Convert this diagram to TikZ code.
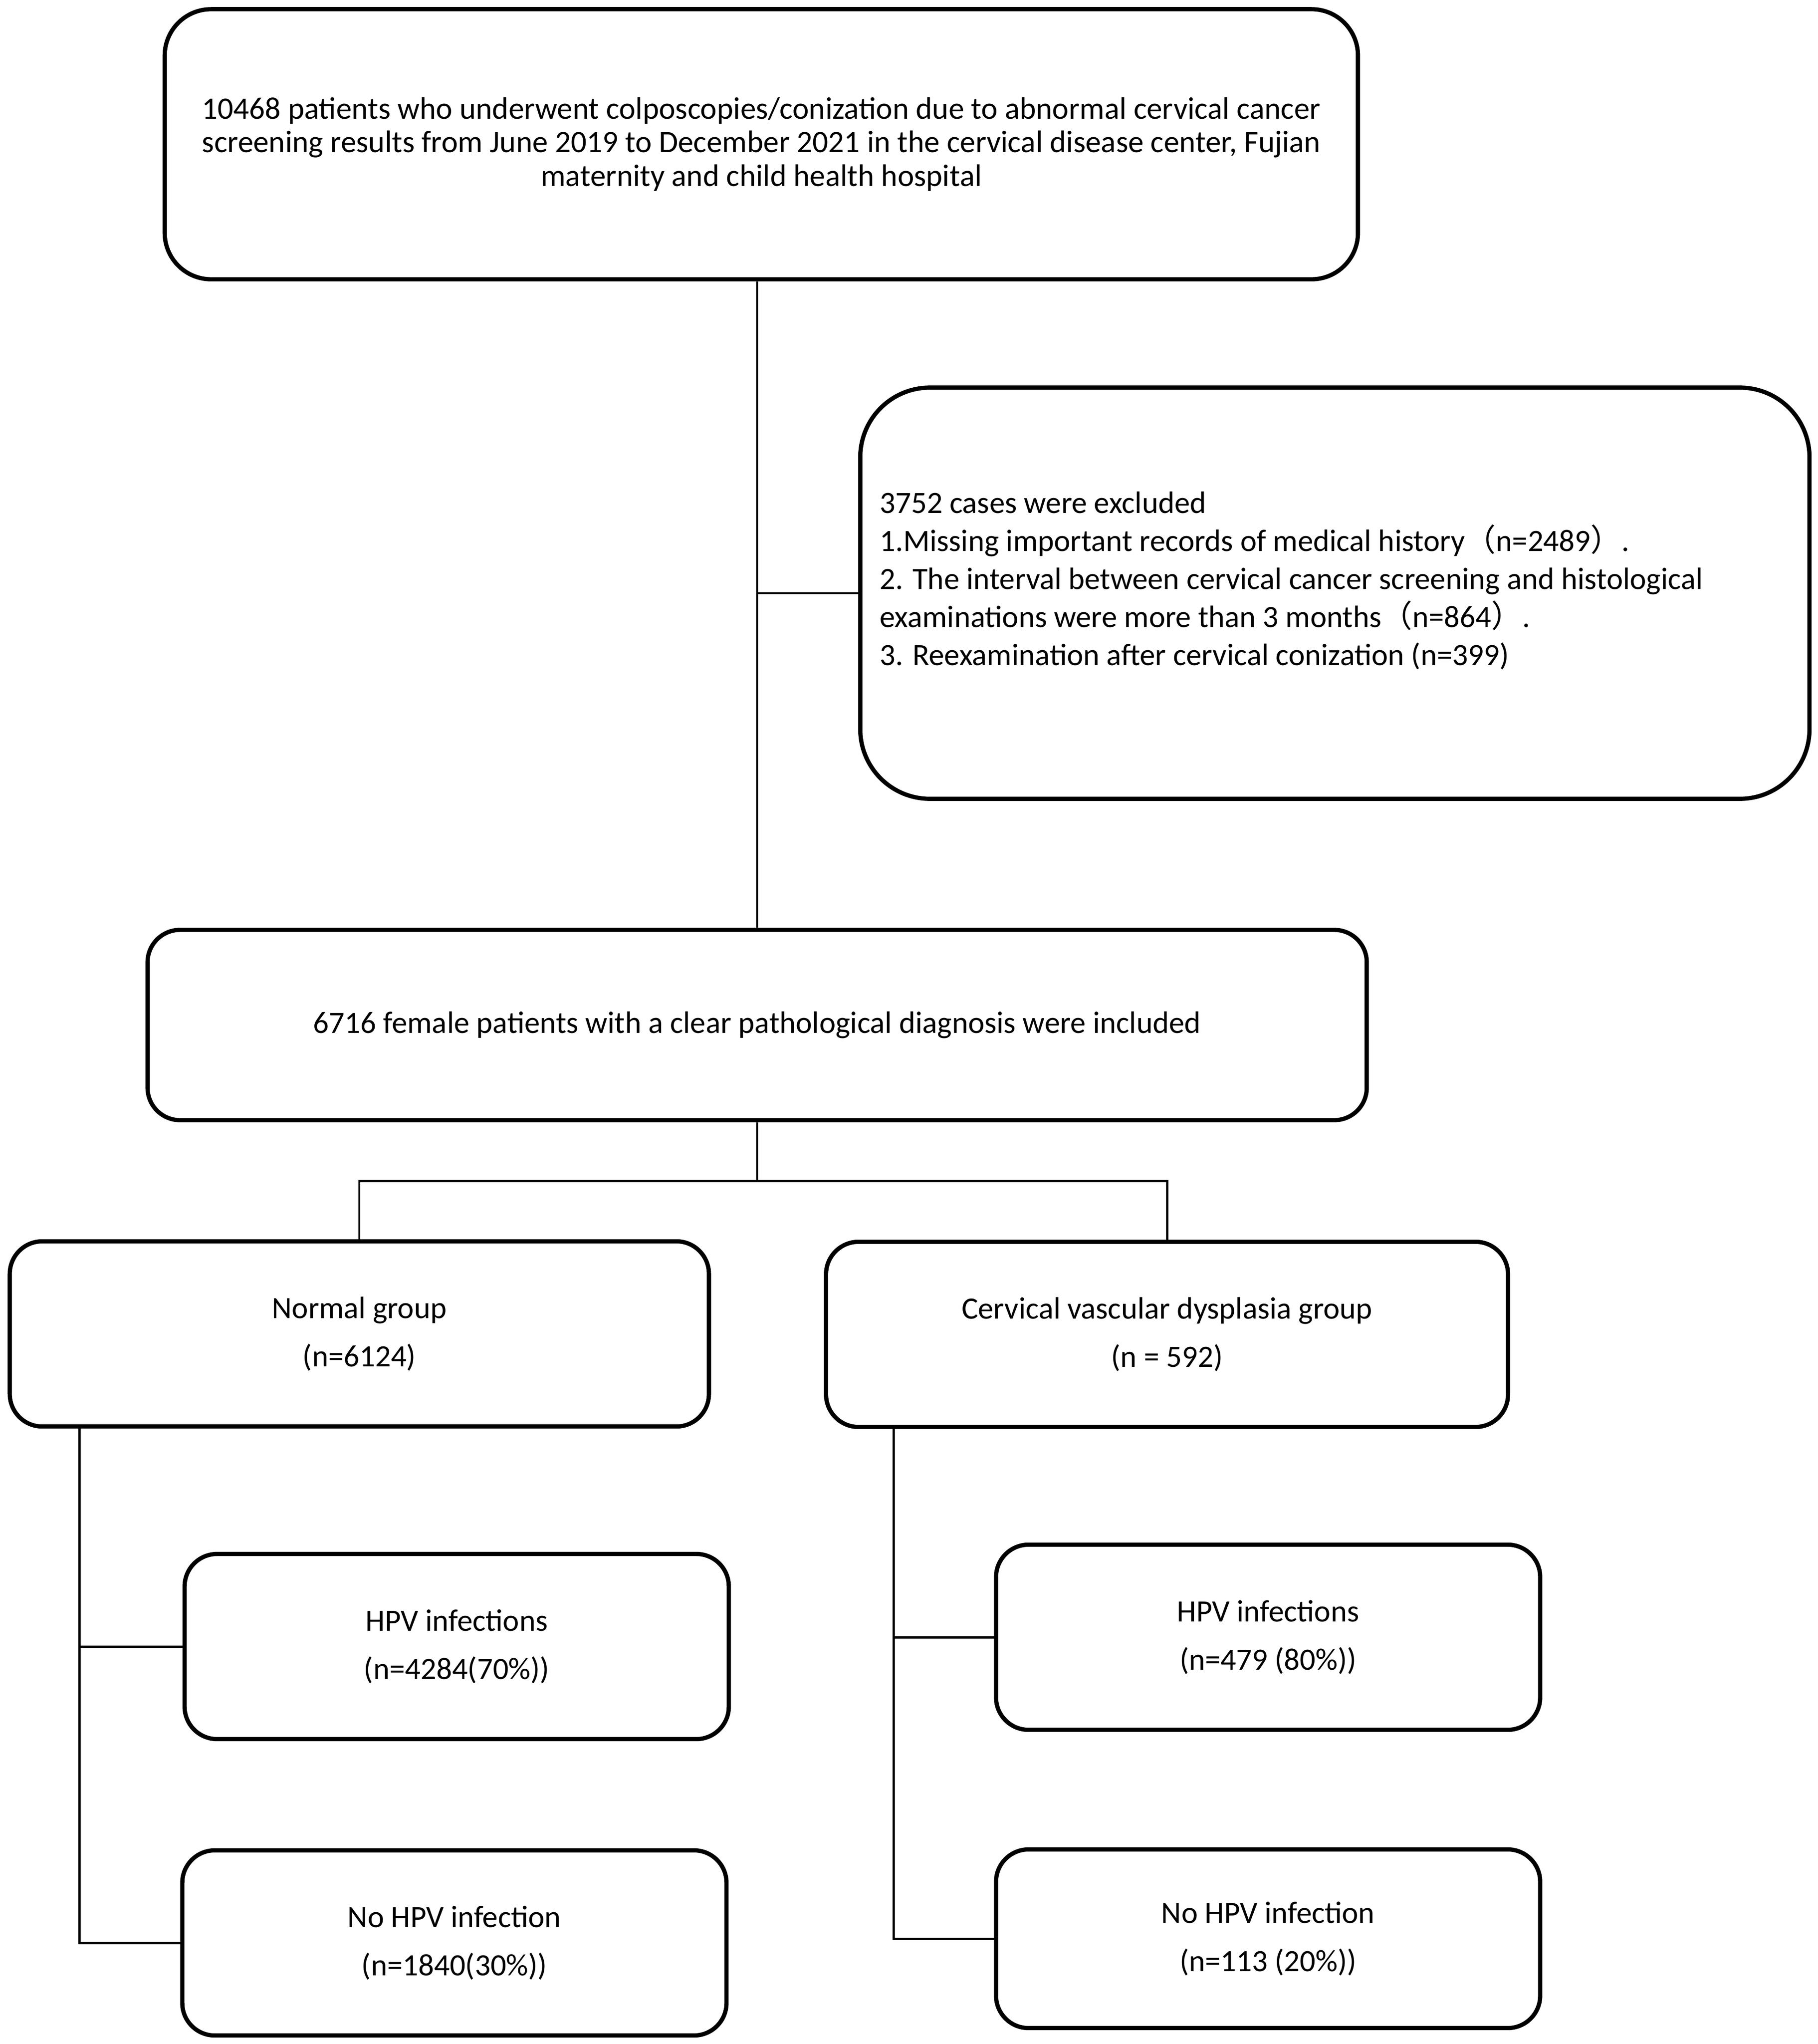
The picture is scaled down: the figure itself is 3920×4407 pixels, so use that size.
\documentclass[tikz,border=0pt]{standalone}
\usepackage{fontspec}
\setmainfont{Carlito}
\newfontfamily\cjk{Noto Sans CJK SC}
\newcommand{\lpar}{{\cjk （}}
\newcommand{\rpar}{{\cjk ）}}
\usetikzlibrary{positioning}

\tikzset{
  box/.style={draw, line width=2.6pt, rounded corners=0.7cm, align=center, inner sep=0pt,
              font=\fontsize{19}{29.6}\selectfont},
  note/.style={align=flush left, inner sep=0pt, font=\fontsize{19}{23.3}\selectfont},
  link/.style={line width=1.4pt},
}

\begin{document}
\begin{tikzpicture}[x=0.01cm, y=-0.01cm]
  \useasboundingbox (0,0) rectangle (3920,4407);
  % boxes
  \node[box, rounded corners=1cm, minimum width=25.72cm, minimum height=5.82cm,
        font=\fontsize{19.1}{20.7}\selectfont] (screen) at (1642,311)
    {10468 patients who underwent colposcopies/conization due to abnormal cervical cancer\\
     screening results from June 2019 to December 2021 in the cervical disease center, Fujian\\
     maternity and child health hospital};
  \node[box, rounded corners=1.5cm, minimum width=20.46cm, minimum height=8.86cm] (excl) at (2879,1279) {};
  \node[note, anchor=west] (exclnote) at ([xshift=0.46cm, yshift=0.27cm]excl.west)
    {3752 cases were excluded\\
     1.Missing important records of medical history\lpar n=2489\rpar.\\
     2. The interval between cervical cancer screening and histological\\
     examinations were more than 3 months\lpar n=864\rpar.\\
     3. Reexamination after cervical conization (n=399)};
  \node[box, minimum width=26.28cm, minimum height=4.1cm] (incl) at (1633,2210)
    {6716 female patients with a clear pathological diagnosis were included};
  \node[box, minimum width=15.07cm, minimum height=3.99cm] (normal) at (775,2876)
    {Normal group\\(n=6124)};
  \node[box, minimum width=14.7cm, minimum height=3.99cm] (cvd) at (2517,2877)
    {Cervical vascular dysplasia group\\(n = 592)};
  \node[box, minimum width=11.73cm, minimum height=3.99cm] (hpvA) at (985,3550)
    {HPV infections\\(n=4284(70\%))};
  \node[box, minimum width=11.73cm, minimum height=3.99cm] (nohpvA) at (980,4189)
    {No HPV infection\\(n=1840(30\%))};
  \node[box, minimum width=11.73cm, minimum height=3.99cm] (hpvB) at (2735,3530)
    {HPV infections\\(n=479 (80\%))};
  \node[box, minimum width=11.73cm, minimum height=3.85cm] (nohpvB) at (2735,4180)
    {No HPV infection\\(n=113 (20\%))};

  % connectors
  \draw[link] (incl.north) -- (incl.north |- screen.south);
  \draw[link] (incl.north |- excl.west) -- (excl.west);
  \coordinate (split) at ([yshift=-1.27cm]incl.south);
  \draw[link] (incl.south) -- (split);
  \draw[link] (normal.north) |- (split) -| (cvd.north);
  \coordinate (trunkA) at ([xshift=1.55cm]normal.south west);
  \draw[link] (trunkA) |- (hpvA.west);
  \draw[link] (trunkA) |- (nohpvA.west);
  \coordinate (trunkB) at ([xshift=1.5cm]cvd.south west);
  \draw[link] (trunkB) |- (hpvB.west);
  \draw[link] (trunkB) |- (nohpvB.west);
\end{tikzpicture}
\end{document}
